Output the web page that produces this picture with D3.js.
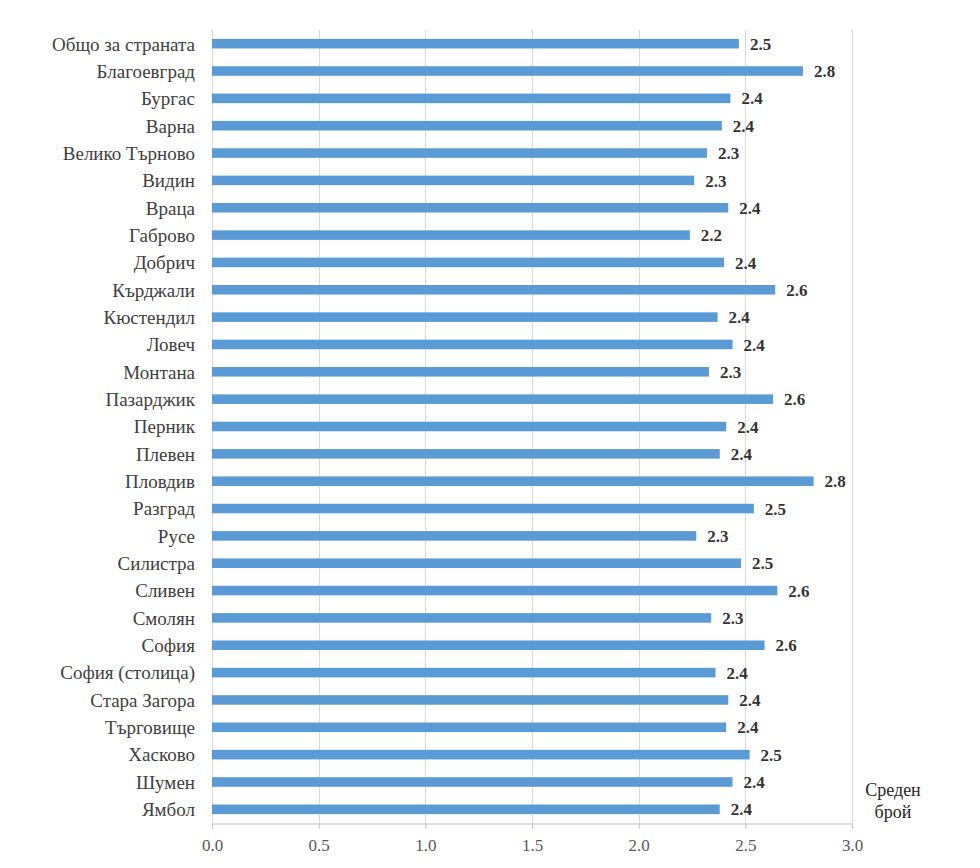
<!DOCTYPE html>
<html>
<head>
<meta charset="utf-8">
<script src="https://cdn.jsdelivr.net/npm/d3@7"></script>
<style>
  html, body { margin: 0; padding: 0; background: #fff; }
  svg { display: block; }
  svg text { font-family: "Liberation Serif", "DejaVu Serif", serif; }
</style>
</head>
<body>
<svg id="chart" width="980" height="868"></svg>
<script>
const categories = [
  "Общо за страната", "Благоевград", "Бургас", "Варна", "Велико Търново",
  "Видин", "Враца", "Габрово", "Добрич", "Кърджали", "Кюстендил", "Ловеч",
  "Монтана", "Пазарджик", "Перник", "Плевен", "Пловдив", "Разград", "Русе",
  "Силистра", "Сливен", "Смолян", "София", "София (столица)", "Стара Загора",
  "Търговище", "Хасково", "Шумен", "Ямбол"
];
const values = [
  2.47, 2.77, 2.43, 2.39, 2.32,
  2.26, 2.42, 2.24, 2.40, 2.64, 2.37, 2.44,
  2.33, 2.63, 2.41, 2.38, 2.82, 2.54, 2.27,
  2.48, 2.65, 2.34, 2.59, 2.36, 2.42,
  2.41, 2.52, 2.44, 2.38
];
const xTicks = [0, 0.5, 1.0, 1.5, 2.0, 2.5, 3.0];
const axisTitle = ["Среден", "брой"];

const svg = d3.select("#chart");
const mLeft = 212, mRight = 852, mTop = 30, mBottom = 823;

const x = d3.scaleLinear().domain([0, 3]).range([mLeft, mRight]);
const y = d3.scaleBand().domain(categories).range([mTop, mBottom])
  .paddingInner(0.65).paddingOuter(0.325);

// gridlines
svg.append("g").selectAll("line").data(xTicks).join("line")
  .attr("x1", d => Math.round(x(d)) + 0.5).attr("x2", d => Math.round(x(d)) + 0.5)
  .attr("y1", mTop).attr("y2", mBottom)
  .attr("stroke", "#d9d9d9").attr("stroke-width", 1);

// x axis
const xAxis = d3.axisBottom(x).tickValues(xTicks).tickFormat(d3.format(".1f"))
  .tickSize(5).tickPadding(10);
const gx = svg.append("g").attr("transform", `translate(0,${mBottom + 0.5})`).call(xAxis);
gx.attr("font-family", null);
gx.select(".domain").attr("stroke", "#bfbfbf");
gx.selectAll(".tick line").attr("stroke", "#bfbfbf");
gx.selectAll(".tick text")
  .style("font-family", "'Liberation Serif', serif")
  .attr("font-size", 17).attr("fill", "#595959");

// bars
svg.append("g").selectAll("rect").data(categories).join("rect")
  .attr("x", x(0))
  .attr("y", d => y(d))
  .attr("width", (d, i) => x(values[i]) - x(0))
  .attr("height", y.bandwidth())
  .attr("fill", "#5b9bd5");

// value labels
const fmt = d3.format(".1f");
svg.append("g").selectAll("text").data(categories).join("text")
  .attr("x", (d, i) => x(values[i]) + 11)
  .attr("y", d => y(d) + y.bandwidth() / 2)
  .attr("dy", "0.36em")
  .attr("font-weight", "bold")
  .attr("font-size", 17)
  .attr("fill", "#333")
  .text((d, i) => fmt(values[i]));

// category labels
svg.append("g").selectAll("text").data(categories).join("text")
  .attr("x", 195)
  .attr("y", d => y(d) + y.bandwidth() / 2)
  .attr("dy", "0.36em")
  .attr("text-anchor", "end")
  .attr("font-size", 19)
  .attr("fill", "#404040")
  .text(d => d);

// axis title
svg.append("g").selectAll("text").data(axisTitle).join("text")
  .attr("x", 893)
  .attr("y", (d, i) => 796 + i * 22)
  .attr("text-anchor", "middle")
  .attr("font-size", 18)
  .attr("fill", "#262626")
  .text(d => d);
</script>
</body>
</html>
